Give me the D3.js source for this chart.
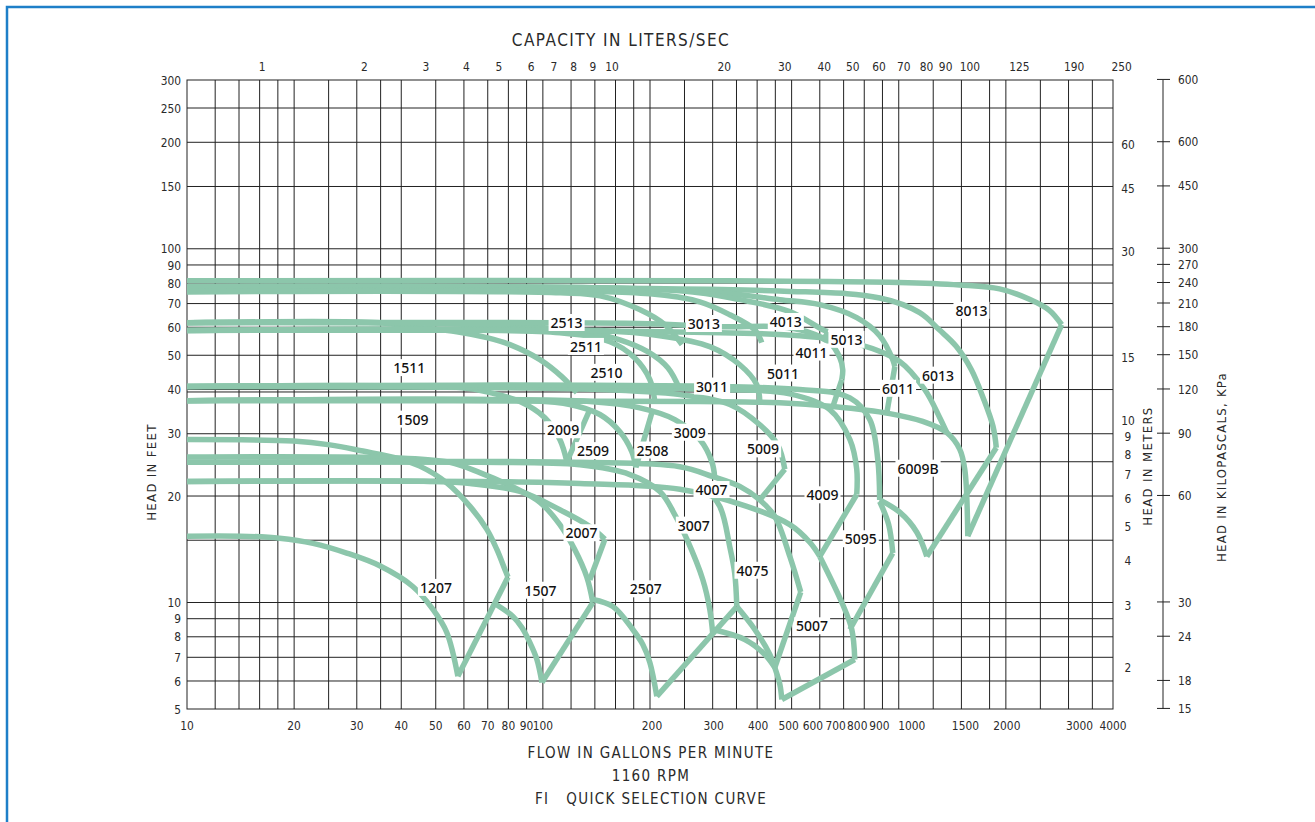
<!DOCTYPE html>
<html>
<head>
<meta charset="utf-8">
<script src="https://cdn.jsdelivr.net/npm/d3@7"></script>
<style>
body { margin: 0; background: #fff; }
</style>
</head>
<body>
<div id="container"></div>
<script>
/* CONSTANTS AND GLOBALS */
const width = 1315,
    height = 822

// AXIS VALUES
const gpmLabels = [10, 20, 30, 40, 50, 60, 70, 80, 90, 100, 200, 300, 400, 500, 600, 700, 800, 900, 1000, 1500, 2000, 3000, 4000]
const gpmLabelDx = [0, 0, 0, 0, 0, 0, 0, 0, 0, 0, 2, 1, 1, -3, -7, -8, -7, -3, 13, 4, 1, 11, 0]
const gpmGrid = [12, 14, 16, 18, 20, 25, 30, 35, 40, 50, 60, 70, 80, 90, 100, 120, 140, 160, 180, 200, 250, 300, 350, 400, 450, 500, 600, 700, 800, 900, 1000, 1250, 1500, 1800, 2000, 2500, 3000, 3500]
const lpsLabels = [1, 2, 3, 4, 5, 6, 7, 8, 9, 10, 20, 30, 40, 50, 60, 70, 80, 90, 100, 125, 190, 250]
const lpsLabelDx = [4, -1, -2, -6, -8, -4, -5, -6, -5, -2, 3, 1, -4, -10, -12, -11, -9, -8, 0, 15, 5, 10]
const ftLabels = [300, 250, 200, 150, 100, 90, 80, 70, 60, 50, 40, 30, 20, 10, 9, 8, 7, 6, 5]
const ftGrid = [250, 200, 150, 100, 90, 80, 70, 60, 50, 40, 30, 25, 20, 15, 10, 9, 8, 7, 6]
const ftShortGrid = [39.37]          // 12 m line, left part only
const shortGridEnd = 500
const meterLabels = [60, 45, 30, 15, 10, 9, 8, 7, 6, 5, 4, 3, 2]
const kpaTicks = [900, 600, 450, 300, 270, 240, 210, 180, 150, 120, 90, 60, 30, 24, 18, 15]
const kpaText = ["600", "600", "450", "300", "270", "240", "210", "180", "150", "120", "90", "60", "30", "24", "18", "15"]

// PUMP CURVES (gpm, feet) - 13" family
const c8013 = [[10, 81.2], [280, 81.2], [1000, 80.3], [1480, 79], [1920, 77], [2330, 72], [2650, 67], [2870, 61]]
const e8013 = [[2870, 61], [1563, 15.4]]
const c6013 = [[10, 78.1], [460, 76], [885, 72.6], [1145, 66], [1300, 59], [1450, 53], [1600, 45.5], [1725, 38], [1840, 31.5], [1880, 27.4]]
const e6013 = [[1880, 27.4], [1199, 13.5]]
const c5013 = [[10, 78.1], [145, 77.6], [314, 75.1], [463, 71.8], [600, 69.5], [762, 63.9], [884, 56.8], [962, 48.6], [975, 46.4]]
const e5013 = [[975, 46.4], [925, 34.2]]
const c4013 = [[10, 78.1], [243, 76.1], [358, 71.8], [494, 66.4], [612, 59], [632, 58.3]]
const e4013 = [[632, 58.3], [612, 54.6]]
const c3013 = [[10, 75.6], [200, 74.6], [276, 70.8], [335, 65.1], [394, 59], [412, 54.3]]
const c2513 = [[10, 75.6], [112, 75.1], [145, 73.6], [187, 67.3], [220, 61], [246, 53.6]]

// 11" family
const c1511 = [[10, 61.8], [34.8, 61.8], [43.1, 60.2], [57.3, 58.3], [69.6, 56.1], [80.8, 53.6], [98.1, 48.6], [113, 43.5], [124.6, 39.2]]
const c2511 = [[10, 61.8], [54.8, 61.4], [86.2, 60.2], [127, 58.7], [164.6, 55.3], [197, 51.2], [224.5, 46.1], [242.6, 40]]
const c2510 = [[10, 58.7], [111.6, 57.9], [154.3, 54.6], [181, 49.2], [199.8, 42.7], [206, 37.4]]
const c3011 = [[10, 58.7], [144.6, 58.7], [213.2, 56.8], [294.5, 52.9], [357.6, 47], [399, 41.3], [407, 37]]
const c4011 = [[10, 61.8], [200, 61.4], [314, 60.2], [463, 60.2], [552, 58.3], [640, 54.3], [683, 49.2], [696, 45.5], [692, 42.7]]
const e4011 = [[692, 42.7], [653, 35.8]]
const c6011 = [[10, 58.7], [527, 56.8], [777, 53.6], [1006, 48], [1183, 40], [1304, 33.3], [1365, 30.2]]

// 9" family
const c1509 = [[10, 40.8], [58.5, 40.5], [71, 39.2], [86.2, 37], [101.3, 33.3], [111.6, 28.9], [116.8, 25]]
const e1509 = [[116.8, 25], [135.5, 35.1]]
const c2509 = [[10, 37.2], [91.9, 37.2], [119.1, 36.3], [144.6, 34], [164.6, 30.4], [177.8, 26.7], [182.5, 24.1]]
const e2509 = [[182.5, 24.1], [202.4, 34.4]]
const c2508 = [[10, 37.2], [135.5, 37], [187.3, 35.5], [234.9, 32.9], [276.1, 28.9], [298.4, 25], [304.2, 22.5]]
const c3009 = [[10, 40.8], [144.6, 40], [242.6, 38.7], [335.2, 36.3], [407, 31.8], [457, 27.9], [478.5, 23.8]]
const e3009 = [[478.5, 23.8], [407, 19.5]]
const c6009 = [[10, 37.2], [276, 37], [463, 36.7], [653, 35.8], [943, 34.2], [1168, 32.5], [1365, 30.2], [1484, 27.1], [1533, 23.8], [1563, 15.4]]
const c4009 = [[10, 40.8], [314, 40], [494, 38.9], [640, 35.1], [729, 28.9], [762, 23.8], [762, 20.2]]
const e4009 = [[762, 20.2], [600, 13.5]]
const c6009a = [[10, 40.8], [527, 40], [729, 37.9], [829, 32.9], [873, 25.4], [884, 19.5]]
const c6009B = [[884, 19.5], [1006, 18], [1124, 15.8], [1199, 13.5]]
const c5095 = [[884, 19.3], [937, 16.6], [962, 13.8]]
const e5095 = [[962, 13.8], [729, 8.39]]

// 7" family
const c1507a = [[10, 28.9], [19.9, 28.6], [25.2, 27.9], [31.2, 26.8], [38.9, 25.6], [45.1, 24.3], [53.7, 21.8], [62.4, 18.7], [69.6, 16.1], [74.3, 14.1], [78.2, 12.4], [79.8, 11.8]]
const c1207 = [[10, 15.4], [14.1, 15.4], [18.2, 15.2], [22.6, 14.7], [28.1, 13.8], [34.8, 12.7], [43.1, 11.1], [49.1, 9.56], [53.7, 8.23], [57.7, 6.19]]
const e1207 = [[57.7, 6.19], [79.8, 11.8]]
const c1507 = [[72.4, 10], [82.4, 9.13], [87.3, 8.5], [91.9, 7.71], [96.2, 6.9], [99.4, 5.94]]
const e1507 = [[99.4, 5.94], [138.2, 10]]
const c2007a = [[10, 25.8], [39.7, 25.6], [54.8, 24.9], [66.5, 23.3], [82.4, 21.2], [98.1, 19.2], [111.6, 16.6], [123, 14.1], [132.9, 11.8], [138.2, 10]]
const c2007 = [[10, 22], [48.2, 22], [62.4, 21.7], [86.2, 20.6], [111.6, 18.3], [135.5, 16.4], [149.4, 15.1]]
const e2007 = [[149.4, 15.1], [135.5, 11.6]]
const c2507 = [[138.2, 10.2], [157.3, 9.74], [178.9, 8.39], [190.9, 7.61], [199.8, 6.77], [209, 5.43]]
const e2507 = [[209, 5.43], [350.7, 9.74]]
const c3007 = [[10, 24.9], [66.5, 24.9], [127, 24.5], [175.6, 23], [213.2, 20.6], [234.9, 17.7], [253.9, 15.1], [281.5, 11.6], [294.5, 9.56], [300.3, 8.12]]
const c4075 = [[276, 21.8], [314, 18.7], [335, 14.4], [346, 12.1], [350.7, 9.74]]
const c4075b = [[300.3, 8.39], [369.3, 7.86], [420.4, 7.13], [448.5, 6.55]]
const c5007 = [[350.7, 9.74], [394, 8.39], [434.2, 7.13], [448.5, 6.55], [463.3, 5.87], [469.3, 5.32]]
const e5007 = [[469.3, 5.32], [752.4, 6.9]]
const c4007 = [[10, 24.9], [127, 24.9], [242.6, 24.2], [300.3, 22.7], [357.6, 21.3], [407, 19.5], [448.5, 17.5], [494.2, 13.5], [530.4, 10.7]]
const e4007 = [[530.4, 10.7], [448.5, 6.55]]
const c4009b = [[10, 22], [66.5, 22], [127, 21.7], [242.6, 20.9], [374.2, 18.7], [494.2, 16.6], [562.3, 14.8], [600, 13.5]]
const c5095b = [[600, 13.5], [692, 10], [738, 8.39], [752.4, 6.9]]

const curves = [c8013, e8013, c6013, e6013, c5013, e5013, c4013, e4013, c3013, c2513,
    c1511, c2511, c2510, c3011, c4011, e4011, c6011,
    c1509, e1509, c2509, e2509, c2508, c3009, e3009, c6009, c4009, e4009, c6009a, c6009B, c5095, e5095,
    c1507a, c1207, e1207, c1507, e1507, c2007a, c2007, e2007, c2507, e2507, c3007, c4075, c4075b, c5007, e5007,
    c4007, e4007, c4009b, c5095b]

// MODEL LABELS
const models = ["1511", "1509", "2513", "2511", "2510", "3013", "4013", "5011", "3011", "2009", "3009", "2509", "2508", "5009", "8013", "5013", "4011", "6013", "6011", "4007", "3007", "2007", "1507", "2507", "4075", "6009B", "4009", "5095", "5007", "1207"]
const modelGpm = [42.1, 43, 116.6, 132.1, 151, 283.4, 481.6, 473.2, 298.9, 114, 258.8, 138.4, 203.3, 415.8, 1601, 713, 568.6, 1289.7, 995.5, 297.8, 265.6, 128.4, 98.5, 194.7, 388.2, 1133, 610.6, 782, 570.8, 50.06]
const modelFt = [46, 32.9, 61.7, 52.8, 44.6, 61.3, 62.1, 44.4, 40.8, 30.7, 30.2, 26.8, 26.9, 27.1, 66.8, 55.3, 50.9, 43.8, 40.2, 20.8, 16.5, 15.7, 10.8, 10.9, 12.3, 23.9, 20.1, 15.1, 8.57, 11]

//SCALE
const xScale = d3.scaleLog()
    .domain([10, 4000])
    .range([187, 1113])

const yScale = d3.scaleLog()
    .domain([5, 300])
    .range([709, 80])

const toGpm = lps => lps * 15.85
const mToFt = m => m * 3.281
const kpaToFt = k => k / 2.989

//SVG
const svg = d3.select("#container")
    .append("svg")
    .attr("width", width)
    .attr("height", height)
    .style("background-color", "white")
    .style("display", "block")

// blue frame
svg.append("path")
    .attr("d", "M7,822 V7 H1315")
    .attr("fill", "none")
    .attr("stroke", "#1e7fc8")
    .attr("stroke-width", 2.5)

const axisFont = "'DejaVu Sans', sans-serif"
const labelFont = "'Noto Sans', sans-serif"
const squeeze = 0.82

// GRID
const grid = svg.append("g").attr("stroke", "#222").attr("stroke-width", 1)

grid.selectAll(".vx")
    .data(gpmGrid)
    .join("line")
    .attr("x1", d => xScale(d)).attr("x2", d => xScale(d))
    .attr("y1", yScale(300)).attr("y2", yScale(5))

grid.selectAll(".hy")
    .data(ftGrid)
    .join("line")
    .attr("x1", xScale(10)).attr("x2", xScale(4000))
    .attr("y1", d => yScale(d)).attr("y2", d => yScale(d))

grid.selectAll(".hs")
    .data(ftShortGrid)
    .join("line")
    .attr("x1", xScale(10)).attr("x2", xScale(shortGridEnd))
    .attr("y1", d => yScale(d)).attr("y2", d => yScale(d))

grid.append("rect")
    .attr("x", xScale(10)).attr("y", yScale(300))
    .attr("width", xScale(4000) - xScale(10))
    .attr("height", yScale(5) - yScale(300))
    .attr("fill", "none")

// CURVES
const line = d3.line()
    .x(d => xScale(d[0]))
    .y(d => yScale(d[1]))
    .curve(d3.curveCatmullRom.alpha(0.5))

svg.append("g")
    .selectAll("path")
    .data(curves)
    .join("path")
    .attr("d", d => line(d))
    .attr("fill", "none")
    .attr("stroke", "#8cc6ab")
    .attr("stroke-width", 5.5)
    .attr("stroke-linejoin", "round")

// MODEL LABELS
const lab = svg.append("g")
    .selectAll("g")
    .data(models)
    .join("g")
    .attr("transform", (d, i) => "translate(" + xScale(modelGpm[i]) + "," + yScale(modelFt[i]) + ")")

lab.append("text")
    .attr("text-anchor", "middle")
    .attr("dy", "0.36em")
    .style("font-family", labelFont)
    .style("font-size", "14px")
    .style("font-weight", "500")
    .attr("fill", "#111")
    .text(d => d)

lab.insert("rect", "text")
    .each(function () {
        const b = this.parentNode.querySelector("text").getBBox()
        d3.select(this)
            .attr("x", b.x - 2).attr("y", b.y + 1)
            .attr("width", b.width + 4).attr("height", b.height - 2)
    })
    .attr("fill", "white")

// AXES TEXT
const axisText = (g) => g.style("font-family", axisFont).style("font-size", "13px").attr("fill", "#2a2a2a")
const at = (x, y) => "translate(" + x + "," + y + ") scale(" + squeeze + ",1)"

svg.append("g").call(axisText)
    .selectAll("text")
    .data(gpmLabels)
    .join("text")
    .attr("transform", (d, i) => at(xScale(d) + gpmLabelDx[i], yScale(5) + 21))
    .attr("text-anchor", "middle")
    .text(d => d)

svg.append("g").call(axisText)
    .selectAll("text")
    .data(lpsLabels)
    .join("text")
    .attr("transform", (d, i) => at(xScale(toGpm(d)) + lpsLabelDx[i], yScale(300) - 9))
    .attr("text-anchor", "middle")
    .text(d => d)

svg.append("g").call(axisText)
    .selectAll("text")
    .data(ftLabels)
    .join("text")
    .attr("transform", d => at(xScale(10) - 6, yScale(d)))
    .attr("dy", "0.35em")
    .attr("text-anchor", "end")
    .text(d => d)

svg.append("g").call(axisText)
    .selectAll("text")
    .data(meterLabels)
    .join("text")
    .attr("transform", d => at(xScale(4000) + 15, yScale(mToFt(d))))
    .attr("dy", "0.35em")
    .attr("text-anchor", "middle")
    .text(d => d)

// kPa axis
const kx = 1163
svg.append("line")
    .attr("x1", kx).attr("x2", kx)
    .attr("y1", yScale(300)).attr("y2", yScale(5))
    .attr("stroke", "#222")

svg.append("g")
    .selectAll("line")
    .data(kpaTicks)
    .join("line")
    .attr("x1", kx - 6).attr("x2", kx + 7)
    .attr("y1", d => yScale(kpaToFt(d))).attr("y2", d => yScale(kpaToFt(d)))
    .attr("stroke", "#222")

svg.append("g").call(axisText)
    .selectAll("text")
    .data(kpaTicks)
    .join("text")
    .attr("transform", d => at(kx + 15, yScale(kpaToFt(d))))
    .attr("dy", "0.35em")
    .text((d, i) => kpaText[i])

// LABELS
svg.append("text").call(axisText)
    .attr("transform", "translate(621,46) scale(0.9,1)")
    .attr("text-anchor", "middle")
    .style("font-size", "17px")
    .style("letter-spacing", "1.6px")
    .text("CAPACITY IN LITERS/SEC")

svg.append("text").call(axisText)
    .attr("transform", "translate(156,472) rotate(-90) scale(0.9,1)")
    .attr("text-anchor", "middle")
    .style("font-size", "13px")
    .style("letter-spacing", "1.5px")
    .text("HEAD IN FEET")

svg.append("text").call(axisText)
    .attr("transform", "translate(1152,466) rotate(-90) scale(0.9,1)")
    .attr("text-anchor", "middle")
    .style("font-size", "13px")
    .style("letter-spacing", "1.5px")
    .text("HEAD IN METERS")

svg.append("text").call(axisText)
    .attr("transform", "translate(1226,467) rotate(-90) scale(0.9,1)")
    .attr("text-anchor", "middle")
    .style("font-size", "13px")
    .style("letter-spacing", "1.4px")
    .text("HEAD IN KILOPASCALS, KPa")

const bottomTitles = ["FLOW IN GALLONS PER MINUTE", "1160 RPM", "FI   QUICK SELECTION CURVE"]
svg.append("g").call(axisText)
    .selectAll("text")
    .data(bottomTitles)
    .join("text")
    .attr("transform", (d, i) => "translate(651," + (758 + i * 23) + ") scale(0.9,1)")
    .attr("text-anchor", "middle")
    .style("font-size", "15px")
    .style("letter-spacing", "1.5px")
    .style("white-space", "pre")
    .text(d => d)
</script>
</body>
</html>
